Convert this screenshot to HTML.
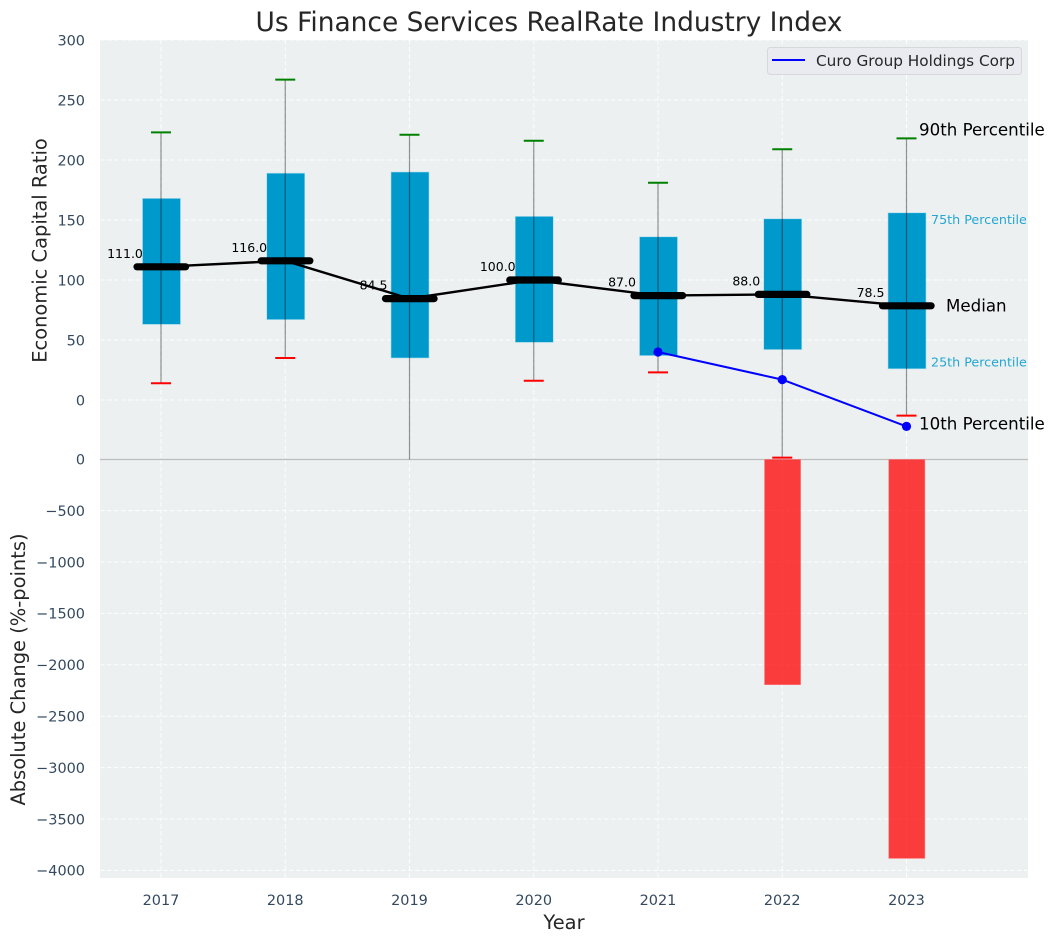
<!DOCTYPE html>
<html>
<head>
<meta charset="utf-8">
<title>Us Finance Services RealRate Industry Index</title>
<style>
html,body{margin:0;padding:0;background:#fff;width:1054px;height:942px;overflow:hidden}
svg{display:block;font-family:"DejaVu Sans","Liberation Sans",sans-serif}
</style>
</head>
<body>
<svg id="chart" xmlns="http://www.w3.org/2000/svg" width="1054" height="942" viewBox="0 0 1054 942">
  <rect x="0" y="0" width="1054" height="942" fill="#ffffff"/>
  <rect x="100" y="40" width="928" height="838" fill="#ecf0f1"/>
  <g id="grid"></g>
  <g id="marks"></g>
  <g id="ticks"></g>
  <text x="549" y="31" text-anchor="middle" font-size="26.45" fill="#262626">Us Finance Services RealRate Industry Index</text>
  <text x="564" y="929" text-anchor="middle" font-size="19.44" fill="#262626">Year</text>
  <text transform="translate(46.5,250.5) rotate(-90)" text-anchor="middle" font-size="19.44" fill="#262626">Economic Capital Ratio</text>
  <text transform="translate(25,669.5) rotate(-90)" text-anchor="middle" font-size="19.44" fill="#262626">Absolute Change (%-points)</text>
  <g>
    <rect x="767.5" y="47.5" width="254" height="27" rx="3" fill="#e9ebf0" stroke="#d6d8dc" stroke-width="1"/>
    <line x1="772" y1="60" x2="805" y2="60" stroke="#0000ff" stroke-width="2"/>
    <text x="816" y="66" font-size="15.28" fill="#262626">Curo Group Holdings Corp</text>
  </g>
</svg>
<script>
const years = [2017, 2018, 2019, 2020, 2021, 2022, 2023];
const p90 = [223, 267, 221, 216, 181, 209, 218];
const p75 = [168, 189, 190, 153, 136, 151, 156];
const medians = [111.0, 116.0, 84.5, 100.0, 87.0, 88.0, 78.5];
const p25 = [63, 67, 35, 48, 37, 42, 26];
const p10 = [14, 35, -50, 16, 23, -48, -13];
const curoYears = [2021, 2022, 2023];
const curoValues = [40, 17, -22];
const changeYears = [2022, 2023];
const changeValues = [-2190, -3880];
const topTicks = [300, 250, 200, 150, 100, 50, 0];
const bottomTicks = [0, -500, -1000, -1500, -2000, -2500, -3000, -3500, -4000];

const NS = 'http://www.w3.org/2000/svg';
const x = yr => 161 + (yr - 2017) * 124.25;
const yTop = v => 400 - v * 1.2;
const yBottom = v => 459.2 - v * 0.1028;
const PLOT_LEFT = 100, PLOT_RIGHT = 1028, PLOT_TOP = 40, PLOT_BOTTOM = 878, DIVIDER = 459.5;

function mk(parent, tag, attrs, txt) {
  const el = document.createElementNS(NS, tag);
  for (const k in attrs) el.setAttribute(k, attrs[k]);
  if (txt !== undefined) el.textContent = txt;
  parent.appendChild(el);
  return el;
}
const grid = document.getElementById('grid');
const marks = document.getElementById('marks');
const ticks = document.getElementById('ticks');
const gridStyle = {stroke: '#ffffff', 'stroke-width': 1, 'stroke-dasharray': '4.5 2.5', 'stroke-opacity': 0.9};
const tickStyle = {'font-size': 14.45, fill: '#34495e'};
const fmt = v => String(v).replace('-', '\u2212');

topTicks.forEach(v => {
  const g = mk(grid, 'line', {x1: PLOT_LEFT, x2: PLOT_RIGHT, y1: yTop(v), y2: yTop(v), ...gridStyle});
  
  
  const t = mk(ticks, 'text', {x: 85, y: yTop(v) + 5.3, 'text-anchor': 'end', ...tickStyle}, fmt(v));
  
  
});
bottomTicks.forEach(v => {
  if (v !== 0) {
    const g = mk(grid, 'line', {x1: PLOT_LEFT, x2: PLOT_RIGHT, y1: yBottom(v), y2: yBottom(v), ...gridStyle});
    
    
  }
  const t = mk(ticks, 'text', {x: 85, y: yBottom(v) + 5.3, 'text-anchor': 'end', ...tickStyle}, fmt(v));
  
  
});
years.forEach(yr => {
  const g = mk(grid, 'line', {x1: x(yr), x2: x(yr), y1: PLOT_TOP, y2: PLOT_BOTTOM, ...gridStyle});
  
  
  const t = mk(ticks, 'text', {x: x(yr), y: 905, 'text-anchor': 'middle', ...tickStyle}, String(yr));
  
  
});

const divider = mk(marks, 'line', {x1: PLOT_LEFT, x2: PLOT_RIGHT, y1: DIVIDER, y2: DIVIDER, stroke: '#bdbdbd', 'stroke-width': 1.2});



years.forEach((yr, i) => {
  const box = mk(marks, 'rect', {x: x(yr) - 18.5, y: yTop(p75[i]), width: 38, height: yTop(p25[i]) - yTop(p75[i]), fill: '#0099cc', stroke: '#a8dcee', 'stroke-width': 0.6});
  
  
});
years.forEach((yr, i) => {
  const low = Math.max(p10[i], -49.6);
  const w = mk(marks, 'line', {x1: x(yr), x2: x(yr), y1: yTop(p90[i]), y2: yTop(low), stroke: '#000000', 'stroke-opacity': 0.42, 'stroke-width': 1.2});
  
  
  const hi = mk(marks, 'line', {x1: x(yr) - 10, x2: x(yr) + 10, y1: yTop(p90[i]), y2: yTop(p90[i]), stroke: '#008000', 'stroke-width': 2});
  
  
  if (p10[i] > -49.5) {
    const lo = mk(marks, 'line', {x1: x(yr) - 10, x2: x(yr) + 10, y1: yTop(p10[i]), y2: yTop(p10[i]), stroke: '#ff0000', 'stroke-width': 2});
    
    
  }
});

const medianLine = mk(marks, 'polyline', {points: years.map((yr, i) => x(yr) + ',' + yTop(medians[i])).join(' '), fill: 'none', stroke: '#000000', 'stroke-width': 2.4});


years.forEach((yr, i) => {
  const m = mk(marks, 'line', {x1: x(yr) - 24, x2: x(yr) + 24.6, y1: yTop(medians[i]), y2: yTop(medians[i]), stroke: '#000000', 'stroke-width': 7.2, 'stroke-linecap': 'round'});
  
  
  const t = mk(marks, 'text', {x: x(yr) - 36, y: yTop(medians[i]) - 9, 'text-anchor': 'middle', 'font-size': 12.5, fill: '#000000'}, medians[i].toFixed(1));
  
  
});

const curoLine = mk(marks, 'polyline', {points: curoYears.map((yr, i) => x(yr) + ',' + yTop(curoValues[i])).join(' '), fill: 'none', stroke: '#0000ff', 'stroke-width': 2});


curoYears.forEach((yr, i) => {
  const c = mk(marks, 'circle', {cx: x(yr), cy: yTop(curoValues[i]), r: 4.6, fill: '#0000ff'});
  
  
});

changeYears.forEach((yr, i) => {
  const b = mk(marks, 'rect', {x: x(yr) - 17.7, y: yBottom(0) + 0.3, width: 36, height: yBottom(changeValues[i]) - yBottom(0), fill: '#ff0000', 'fill-opacity': 0.75, stroke: '#ff6f73', 'stroke-width': 0.6});
  
  
});

const last = years.length - 1;
const xLast = x(years[last]);
const a90 = mk(marks, 'text', {x: xLast + 12.5, y: yTop(p90[last]) - 3, 'font-size': 16.67, fill: '#000000'}, '90th Percentile');


const a75 = mk(marks, 'text', {x: xLast + 24.5, y: yTop(p75[last]) + 11, 'font-size': 12.7, fill: '#0099cc', 'fill-opacity': 0.85}, '75th Percentile');


const aMed = mk(marks, 'text', {x: xLast + 39.5, y: yTop(medians[last]) + 5.5, 'font-size': 16.67, fill: '#000000'}, 'Median');


const a25 = mk(marks, 'text', {x: xLast + 24.5, y: yTop(p25[last]) - 2.5, 'font-size': 12.7, fill: '#0099cc', 'fill-opacity': 0.85}, '25th Percentile');


const a10 = mk(marks, 'text', {x: xLast + 12.5, y: yTop(p10[last]) + 14, 'font-size': 16.67, fill: '#000000'}, '10th Percentile');


</script>
</body>
</html>
